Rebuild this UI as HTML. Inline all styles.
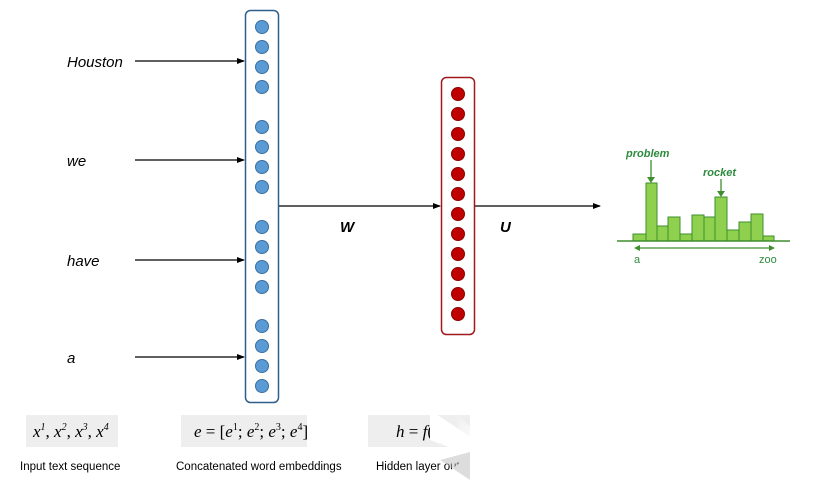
<!DOCTYPE html>
<html><head><style>
body{margin:0;width:828px;height:486px;background:#fff;overflow:hidden;position:relative;font-family:"Liberation Sans",sans-serif}
.t{position:absolute}
</style></head><body>
<svg width="828" height="486" style="position:absolute;left:0;top:0">
<defs>
<marker id="a" markerWidth="8" markerHeight="8" refX="7" refY="4" orient="auto" markerUnits="userSpaceOnUse"><path d="M0,1 L8,4 L0,7 z" fill="#000"/></marker>
<marker id="g" markerWidth="8" markerHeight="8" refX="4" refY="7" orient="auto" markerUnits="userSpaceOnUse"><path d="M0,0 L4,8 L8,0 z" fill="#2e8b3e" transform="rotate(-90 4 4)"/></marker>
<linearGradient id="fade" x1="0" y1="0" x2="1" y2="1"><stop offset="0" stop-color="#fff" stop-opacity="0"/><stop offset="0.45" stop-color="#fff" stop-opacity="1"/></linearGradient>
</defs>
<g font-family="Liberation Sans" font-style="italic" font-size="15" fill="#000">
<text x="67" y="67">Houston</text><text x="67" y="166">we</text><text x="67" y="266">have</text><text x="67" y="363">a</text>
</g>
<g stroke="#000" stroke-width="1.3" marker-end="url(#a)">
<line x1="135" y1="61" x2="244" y2="61"/><line x1="135" y1="160" x2="244" y2="160"/>
<line x1="135" y1="260" x2="244" y2="260"/><line x1="135" y1="357" x2="244" y2="357"/>
<line x1="278" y1="206" x2="440" y2="206"/><line x1="474" y1="206" x2="600" y2="206"/>
</g>
<rect x="245.5" y="10.5" width="33" height="392" rx="5" fill="#fff" stroke="#2f5f8a" stroke-width="1.5"/>
<g fill="#5b9bd5" stroke="#3a6f9f" stroke-width="1">
<circle cx="262" cy="27" r="6.5"/><circle cx="262" cy="47" r="6.5"/><circle cx="262" cy="67" r="6.5"/><circle cx="262" cy="87" r="6.5"/>
<circle cx="262" cy="127" r="6.5"/><circle cx="262" cy="147" r="6.5"/><circle cx="262" cy="167" r="6.5"/><circle cx="262" cy="187" r="6.5"/>
<circle cx="262" cy="227" r="6.5"/><circle cx="262" cy="247" r="6.5"/><circle cx="262" cy="267" r="6.5"/><circle cx="262" cy="287" r="6.5"/>
<circle cx="262" cy="326" r="6.5"/><circle cx="262" cy="346" r="6.5"/><circle cx="262" cy="366" r="6.5"/><circle cx="262" cy="386" r="6.5"/>
</g>
<rect x="441.5" y="77.5" width="33" height="257" rx="5" fill="#fff" stroke="#a0191b" stroke-width="1.5"/>
<g fill="#c00000" stroke="#8a0000" stroke-width="1">
<circle cx="458" cy="94" r="6.5"/><circle cx="458" cy="114" r="6.5"/><circle cx="458" cy="134" r="6.5"/><circle cx="458" cy="154" r="6.5"/>
<circle cx="458" cy="174" r="6.5"/><circle cx="458" cy="194" r="6.5"/><circle cx="458" cy="214" r="6.5"/><circle cx="458" cy="234" r="6.5"/>
<circle cx="458" cy="254" r="6.5"/><circle cx="458" cy="274" r="6.5"/><circle cx="458" cy="294" r="6.5"/><circle cx="458" cy="314" r="6.5"/>
</g>
<g font-family="Liberation Sans" font-style="italic" font-weight="bold" font-size="15"><text x="340" y="232">W</text><text x="500" y="232">U</text></g>
<g fill="#8fd14f" stroke="#3e8e2e" stroke-width="1">
<rect x="633" y="234" width="13" height="7"/><rect x="646" y="183" width="11" height="58"/><rect x="657" y="226" width="11" height="15"/>
<rect x="668" y="217" width="12" height="24"/><rect x="680" y="234" width="12" height="7"/><rect x="692" y="215" width="12" height="26"/>
<rect x="704" y="217" width="11" height="24"/><rect x="715" y="197" width="12" height="44"/><rect x="727" y="230" width="12" height="11"/>
<rect x="739" y="222" width="12" height="19"/><rect x="751" y="214" width="12" height="27"/><rect x="763" y="236" width="11" height="5"/>
</g>
<line x1="617" y1="241" x2="790" y2="241" stroke="#3e8e2e" stroke-width="1.5"/>
<line x1="636" y1="248" x2="773" y2="248" stroke="#3e8e2e" stroke-width="1.3"/>
<path d="M634,248 l6,-3 v6z M775,248 l-6,-3 v6z" fill="#3e8e2e"/>
<line x1="651" y1="160" x2="651" y2="178" stroke="#3e8e2e" stroke-width="1.3"/><path d="M647,177 l4,6 l4,-6z" fill="#3e8e2e"/>
<line x1="721" y1="179" x2="721" y2="192" stroke="#3e8e2e" stroke-width="1.3"/><path d="M717,191 l4,6 l4,-6z" fill="#3e8e2e"/>
<g font-family="Liberation Sans" fill="#2e8b3e" font-size="11"><text x="626" y="157" font-style="italic" font-weight="bold">problem</text><text x="703" y="176" font-style="italic" font-weight="bold">rocket</text>
<text x="634" y="263">a</text><text x="759" y="263">zoo</text></g>
<rect x="26" y="415" width="92" height="32" fill="#eeeeee"/>
<rect x="181" y="415" width="126" height="32" fill="#eeeeee"/>
<rect x="368" y="415" width="110" height="32" fill="#eeeeee"/>
<g font-family="Liberation Serif" font-style="italic" font-size="17">
<text x="33" y="437">x<tspan font-size="10" dy="-7">1</tspan><tspan dy="7" font-style="normal">, </tspan>x<tspan font-size="10" dy="-7">2</tspan><tspan dy="7" font-style="normal">, </tspan>x<tspan font-size="10" dy="-7">3</tspan><tspan dy="7" font-style="normal">, </tspan>x<tspan font-size="10" dy="-7">4</tspan></text>
<text x="194" y="437">e <tspan font-style="normal">= [</tspan>e<tspan font-size="10" dy="-7" font-style="normal">1</tspan><tspan dy="7" font-style="normal">; </tspan>e<tspan font-size="10" dy="-7" font-style="normal">2</tspan><tspan dy="7" font-style="normal">; </tspan>e<tspan font-size="10" dy="-7" font-style="normal">3</tspan><tspan dy="7" font-style="normal">; </tspan>e<tspan font-size="10" dy="-7" font-style="normal">4</tspan><tspan dy="7" font-style="normal">]</tspan></text>
<text x="396" y="437">h <tspan font-style="normal">= </tspan>f<tspan font-style="normal">(W</tspan></text>
</g>
<g font-family="Liberation Sans" font-size="11.5" fill="#000">
<text x="20" y="470">Input text sequence</text><text x="176" y="470">Concatenated word embeddings</text><text x="376" y="470">Hidden layer output</text>
</g>
<polygon points="430,410 520,470 520,486 430,486 470,455 430,440" fill="#fff"/>
<polygon points="455,412 515,470 470,480" fill="url(#fade)"/>
<rect x="470" y="405" width="80" height="81" fill="#fff"/>
<polygon points="440,460 470,452 470,480" fill="#bbb" opacity="0.5"/>
</svg>
</body></html>
